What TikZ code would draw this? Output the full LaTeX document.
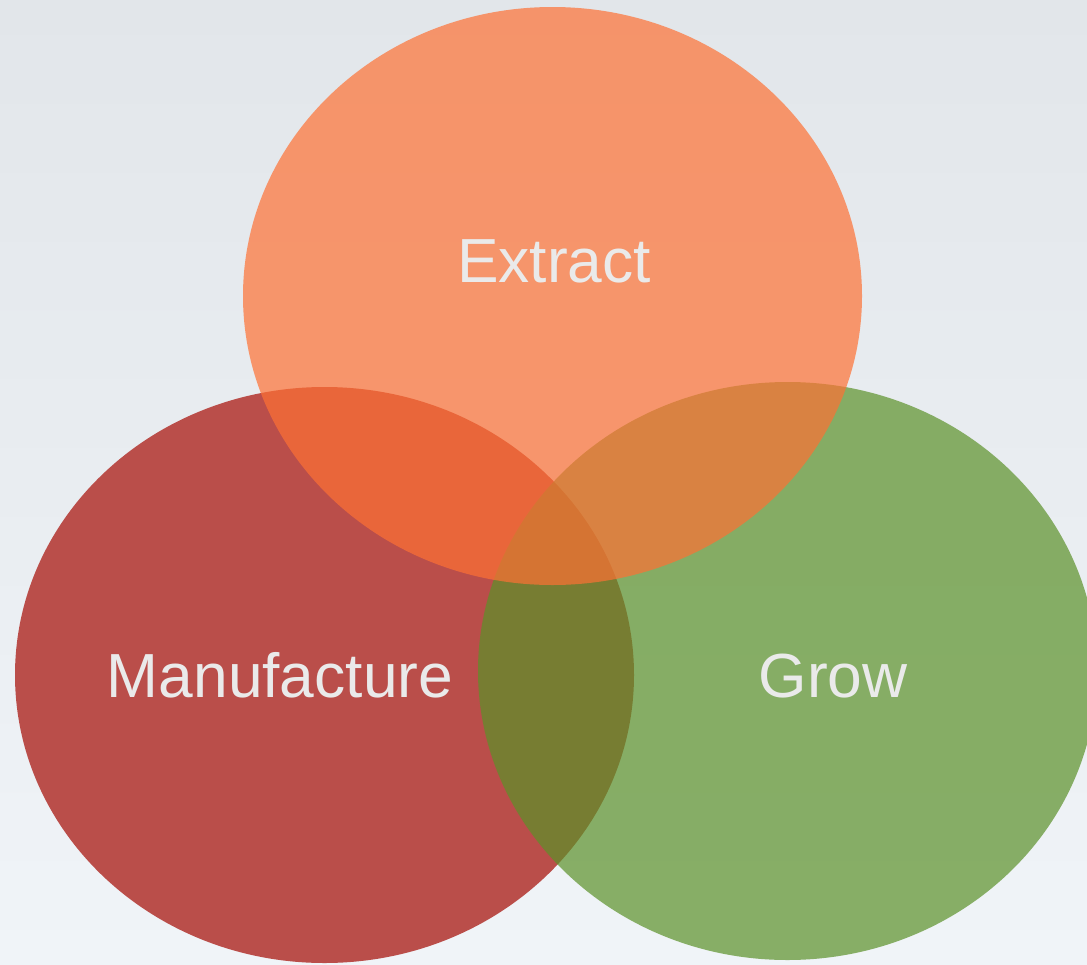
\documentclass[tikz,border=0pt]{standalone}
\usepackage{fontspec}
\setmainfont{Liberation Sans}
\definecolor{bgtop}{RGB}{226,230,234}
\definecolor{bgbot}{RGB}{240,244,248}
\definecolor{redc}{RGB}{186,78,74}
\definecolor{greenc}{RGB}{91,145,41}
\definecolor{salmonc}{RGB}{254,113,52}
\definecolor{txt}{RGB}{234,234,234}
\tikzset{
  lbl/.style={anchor=base, text=txt, inner sep=0pt, font=\fontsize{62.3}{70}\selectfont},
}
\begin{document}
\begin{tikzpicture}[x=1pt,y=-1pt]
\useasboundingbox (0,0) rectangle (1087,964);
\shade[top color=bgtop, bottom color=bgbot] (0,0) rectangle (1087,964);
\fill[redc] (324.5,675) ellipse [x radius=309.5, y radius=288];
\fill[greenc, opacity=0.7] (787.5,671) ellipse [x radius=309.5, y radius=289];
\fill[salmonc, opacity=0.7] (552.5,296) ellipse [x radius=309.5, y radius=289];
\node[lbl] (extract) at (554,282) {Extract};
\node[lbl] (manufacture) at (280,697) {Manufacture};
\node[lbl] (grow) at (833,697) {Grow};
\end{tikzpicture}
\end{document}
